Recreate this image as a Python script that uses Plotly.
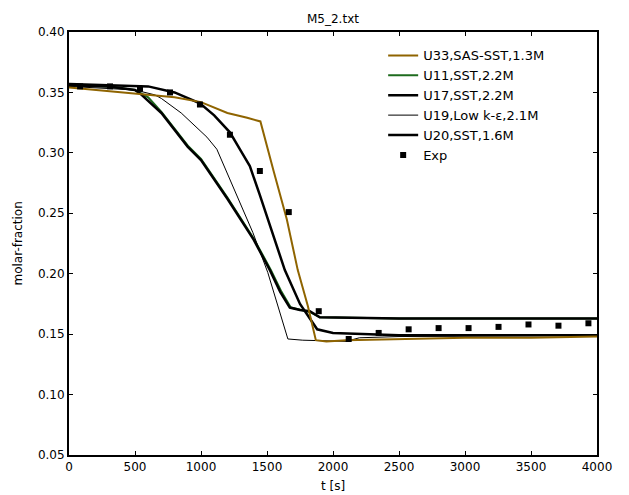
import plotly.graph_objects as go

# ---- data ----
t_u33 = [0, 200, 400, 600, 800, 1000, 1200, 1350, 1450, 1550, 1650, 1733, 1810, 1870, 1950, 2100, 2500, 3000, 3500, 4000]
y_u33 = [0.354, 0.352, 0.350, 0.348, 0.346, 0.342, 0.333, 0.329, 0.326, 0.285, 0.245, 0.203, 0.173, 0.145, 0.144, 0.145, 0.146, 0.147, 0.147, 0.148]

t_u11 = [0, 300, 500, 600, 700, 900, 1000, 1200, 1400, 1530, 1610, 1680, 1760, 1830, 1900, 2500, 4000]
y_u11 = [0.356, 0.355, 0.352, 0.346, 0.334, 0.306, 0.295, 0.263, 0.229, 0.203, 0.185, 0.172, 0.170, 0.168, 0.164, 0.163, 0.163]

t_u17 = [0, 300, 600, 800, 992, 1100, 1219, 1294, 1370, 1446, 1559, 1635, 1750, 1840, 1880, 2000, 2500, 4000]
y_u17 = [0.357, 0.356, 0.355, 0.350, 0.341, 0.331, 0.317, 0.303, 0.289, 0.265, 0.228, 0.203, 0.175, 0.161, 0.154, 0.151, 0.149, 0.149]

t_u19 = [0, 500, 650, 700, 850, 1045, 1120, 1250, 1393, 1506, 1580, 1658, 1771, 2100, 2200, 2500, 4000]
y_u19 = [0.355, 0.352, 0.348, 0.345, 0.333, 0.313, 0.303, 0.270, 0.234, 0.201, 0.175, 0.146, 0.145, 0.144, 0.147, 0.148, 0.149]

t_u20 = [0, 300, 500, 550, 700, 900, 1000, 1200, 1400, 1522, 1600, 1673, 1750, 1824, 1900, 2500, 4000]
y_u20 = [0.356, 0.355, 0.352, 0.348, 0.333, 0.305, 0.294, 0.262, 0.228, 0.203, 0.185, 0.172, 0.170, 0.169, 0.164, 0.163, 0.163]

t_exp = [84, 311, 538, 765, 992, 1219, 1446, 1665, 1892, 2119, 2346, 2573, 2800, 3027, 3254, 3481, 3708, 3935]
y_exp = [0.355, 0.355, 0.353, 0.350, 0.340, 0.315, 0.285, 0.251, 0.169, 0.146, 0.151, 0.154, 0.155, 0.155, 0.156, 0.158, 0.157, 0.159]

names = ["U33,SAS-SST,1.3M", "U11,SST,2.2M", "U17,SST,2.2M", "U19,Low k-ε,2.1M", "U20,SST,1.6M", "Exp"]

FONT = "DejaVu Sans"

fig = go.Figure()
fig.add_trace(go.Scatter(x=t_u11, y=y_u11, mode="lines", name=names[1],
                         line=dict(color="#1e6b1e", width=2), legendrank=2))
fig.add_trace(go.Scatter(x=t_u20, y=y_u20, mode="lines", name=names[4],
                         line=dict(color="black", width=2.5), legendrank=5))
fig.add_trace(go.Scatter(x=t_u19, y=y_u19, mode="lines", name=names[3],
                         line=dict(color="black", width=1), legendrank=4))
fig.add_trace(go.Scatter(x=t_u17, y=y_u17, mode="lines", name=names[2],
                         line=dict(color="black", width=2.5), legendrank=3))
fig.add_trace(go.Scatter(x=t_u33, y=y_u33, mode="lines", name=names[0],
                         line=dict(color="#8f6400", width=2), legendrank=1))
fig.add_trace(go.Scatter(x=t_exp, y=y_exp, mode="markers", name=names[5],
                         marker=dict(color="black", size=6, symbol="square"), legendrank=6))

axis_common = dict(showline=True, linecolor="black", linewidth=2, mirror="ticks",
                   ticks="inside", ticklen=4, tickcolor="black", showgrid=False,
                   zeroline=False, tickfont=dict(family=FONT, size=12, color="black"))

fig.update_layout(
    width=629, height=495,
    margin=dict(l=69, r=32, t=32, b=40),
    paper_bgcolor="white", plot_bgcolor="white",
    font=dict(family=FONT, size=12, color="black"),
    showlegend=True,
    legend=dict(x=0.595, y=0.98, xanchor="left", yanchor="top",
                bgcolor="rgba(0,0,0,0)", borderwidth=0,
                font=dict(family=FONT, size=13, color="black"),
                tracegroupgap=0, itemwidth=30),
    xaxis=dict(range=[0, 4000], dtick=500, tick0=0, **axis_common),
    yaxis=dict(range=[0.05, 0.40], dtick=0.05, tick0=0.05, tickformat=".2f", **axis_common),
    annotations=[
        dict(text="M5_2.txt", x=0.5, y=1, xref="paper", yref="paper", xanchor="center",
             yanchor="bottom", yshift=4, showarrow=False, font=dict(family=FONT, size=12)),
        dict(text="t [s]", x=0.5, y=0, xref="paper", yref="paper", xanchor="center",
             yanchor="top", yshift=-22, showarrow=False, font=dict(family=FONT, size=12)),
        dict(text="molar-fraction", x=0, y=0.5, xref="paper", yref="paper", xanchor="center",
             yanchor="middle", xshift=-52, textangle=-90, showarrow=False,
             font=dict(family=FONT, size=12)),
    ],
)

fig.write_html("out.html")
